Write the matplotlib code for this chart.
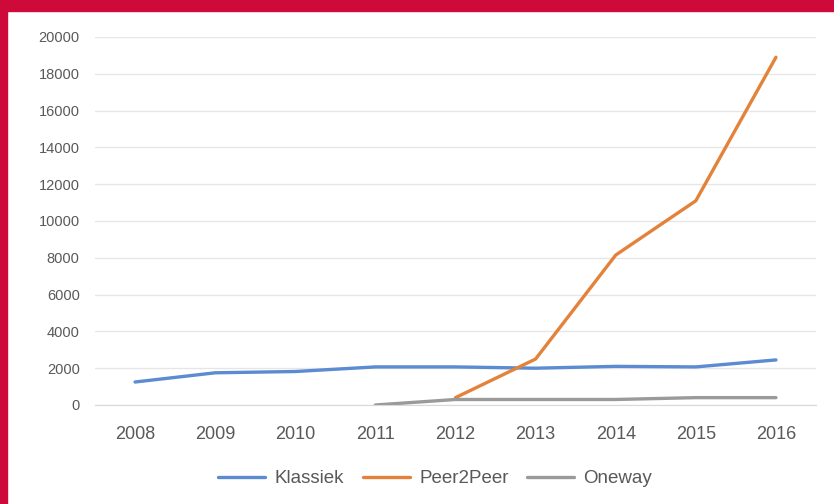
import matplotlib.pyplot as plt
from matplotlib.patches import Rectangle

years = ['2008', '2009', '2010', '2011', '2012', '2013', '2014', '2015', '2016']
klassiek = [1250, 1750, 1820, 2070, 2070, 2000, 2100, 2070, 2450]
# Peer2Peer and Oneway start later
p2p_years = ['2012', '2013', '2014', '2015', '2016']
peer2peer = [400, 2500, 8150, 11100, 18900]
oneway_years = ['2011', '2012', '2013', '2014', '2015', '2016']
oneway = [0, 300, 300, 300, 400, 400]

plt.rcParams['font.family'] = ['Liberation Sans', 'DejaVu Sans']

fig = plt.figure(figsize=(8.34, 5.04), dpi=100)
ax = fig.add_axes([95/834, 99/504, 721/834, 368/504])

x_all = list(range(len(years)))
idx = {y: i for i, y in enumerate(years)}

ax.plot(x_all, klassiek, color='#5B8BD0', lw=2.4, label='Klassiek', solid_capstyle='round')
ax.plot([idx[y] for y in p2p_years], peer2peer, color='#E3823A', lw=2.4,
        label='Peer2Peer', solid_capstyle='round')
ax.plot([idx[y] for y in oneway_years], oneway, color='#9A9A9A', lw=2.4,
        label='Oneway', solid_capstyle='round')

ax.set_xlim(-0.5, len(years) - 0.5)
ax.set_ylim(0, 20000)
ax.set_yticks(range(0, 20001, 2000))
ax.set_xticks(x_all)
ax.set_xticklabels(years)
ax.tick_params(axis='x', length=0, labelsize=13, colors='#595959', pad=15)
ax.tick_params(axis='y', length=0, labelsize=10.5, colors='#595959', pad=11)
ax.grid(axis='y', color='#E6E6E6', lw=1)
ax.set_axisbelow(True)
for s in ['top', 'right', 'left']:
    ax.spines[s].set_visible(False)
ax.spines['bottom'].set_color('#D9D9D9')

fig.legend(loc='center', bbox_to_anchor=(0.522, 0.05), ncol=3, frameon=False,
           fontsize=13.5, handlelength=2.5, columnspacing=1.0, handletextpad=0.5,
           labelcolor='#595959')

# red frame
red = '#CE0A3A'
fig.patches.append(Rectangle((0, 1 - 11/504), 1, 11/504, transform=fig.transFigure,
                             color=red, zorder=10))
fig.patches.append(Rectangle((0, 0), 7/834, 1, transform=fig.transFigure,
                             color=red, zorder=10))

fig.savefig('out.png', dpi=100)
